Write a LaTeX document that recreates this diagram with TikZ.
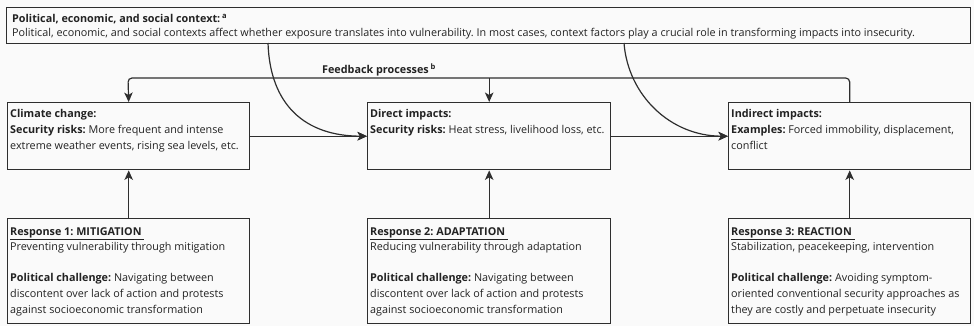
\documentclass[tikz,border=0pt]{standalone}
\usepackage{fontspec}
\setmainfont{Open Sans}
\frenchspacing
\usetikzlibrary{arrows.meta,calc}
\definecolor{ln}{HTML}{2E2E2E}
\definecolor{tx}{HTML}{222222}
\definecolor{bgc}{HTML}{FAFAFA}
\begin{document}
\frenchspacing
\begin{tikzpicture}[x=1bp,y=-1bp,
  box/.style={draw=ln, line width=1.4bp, inner sep=0, anchor=north west},
  txt/.style={inner sep=0, anchor=north west, align=left, text=tx, font=\fontsize{10.8bp}{15.6bp}\selectfont},
  arr/.style={draw=ln, line width=1.2bp, -{Stealth[length=9.5bp,width=8.5bp,inset=2.5bp]}},
  curv/.style={draw=ln, line width=1.2bp, -{Stealth[length=9.5bp,width=8.5bp,inset=2.5bp]}}]
\fill[bgc] (0,0) rectangle (974,326);
\useasboundingbox (0,0) rectangle (974,326);
% boxes
\node[box, minimum width=964bp, minimum height=36bp] (ctx) at (6,7) {};
\node[box, minimum width=242bp, minimum height=67bp] (cc) at (7,102) {};
\node[box, minimum width=243bp, minimum height=67bp] (di) at (367,102) {};
\node[box, minimum width=242bp, minimum height=67bp] (ii) at (728,102) {};
\node[box, minimum width=242bp, minimum height=105bp] (r1) at (7,218) {};
\node[box, minimum width=243bp, minimum height=105bp] (r2) at (367,218) {};
\node[box, minimum width=242bp, minimum height=105bp] (r3) at (728,218) {};
% texts
\node[txt, font=\fontsize{10.8bp}{14bp}\selectfont] (ctxt) at (12,14) {\textbf{Political, economic, and social context:}\,\textsuperscript{\textbf{a}}\\
Political, economic, and social contexts affect whether exposure translates into vulnerability. In most cases, context factors play a crucial role in transforming impacts into insecurity.};
\node[txt] (cct) at (10,109.5) {\textbf{Climate change:}\\
\textbf{Security risks:} More frequent and intense\\
extreme weather events, rising sea levels, etc.};
\node[txt] (dit) at (370,109.5) {\textbf{Direct impacts:}\\
\textbf{Security risks:} Heat stress, livelihood loss, etc.};
\node[txt] (iit) at (731,109.5) {\textbf{Indirect impacts:}\\
\textbf{Examples:} Forced immobility, displacement,\\
conflict};
\node[txt] (r1t) at (10,227) {\underline{\textbf{Response 1: MITIGATION}\ }\\
Preventing vulnerability through mitigation\\[15.6bp]
\textbf{Political challenge:} Navigating between\\
discontent over lack of action and protests\\
against socioeconomic transformation};
\node[txt] (r2t) at (370,227) {\underline{\textbf{Response 2: ADAPTATION}\ }\\
Reducing vulnerability through adaptation\\[15.6bp]
\textbf{Political challenge:} Navigating between\\
discontent over lack of action and protests\\
against socioeconomic transformation};
\node[txt] (r3t) at (731,227) {\underline{\textbf{Response 3: REACTION}\ }\\
Stabilization, peacekeeping, intervention\\[15.6bp]
\textbf{Political challenge:} Avoiding symptom-\\
oriented conventional security approaches as\\
they are costly and perpetuate insecurity};
\node[txt, anchor=center] (fb) at (379,70) {\textbf{Feedback processes}\,\textsuperscript{\textbf{b}}};
% feedback
\coordinate (fbL) at (128,78);
\draw[arr, rounded corners=4bp] (ii.north) -- (ii.north |- fbL) -- (fbL) -- (cc.north);
\draw[arr] (di.north |- fbL) -- (di.north);
% responses
\draw[arr] (r1.north) -- (cc.south);
\draw[arr] (r2.north) -- (di.south);
\draw[arr] (r3.north) -- (ii.south);
% horizontal
\draw[arr] (cc.east) -- (di.west);
\draw[arr] (di.east) -- (ii.west);
% context curves
\coordinate (s1) at (268,43);
\coordinate (s2) at (624,43);
\draw[curv] (s1) .. controls (270,105) and (305,136) .. (di.west);
\draw[curv] (s2) .. controls (628,95) and (670,136) .. (ii.west);
\end{tikzpicture}
\end{document}
